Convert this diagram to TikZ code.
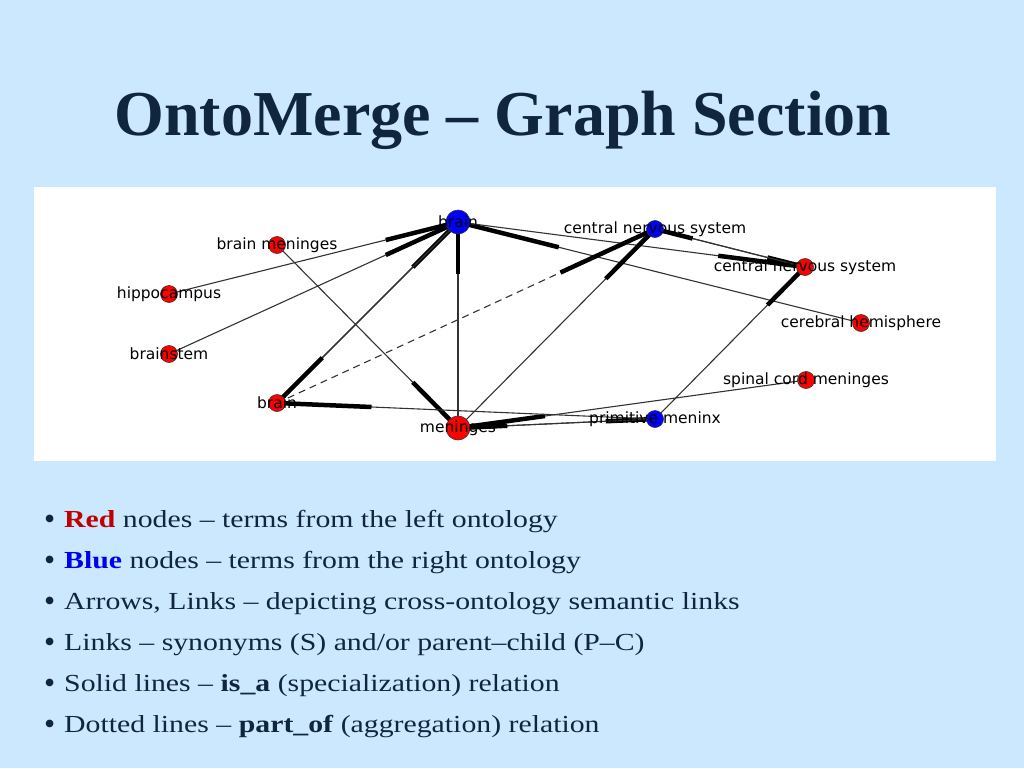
\documentclass[tikz,border=0pt]{standalone}
\usepackage{fontspec}
\setmainfont{Liberation Serif}
\newfontfamily\graphfont{DejaVu Sans}
\usetikzlibrary{calc}
\definecolor{slidebg}{HTML}{CCE8FF}
\definecolor{navy}{HTML}{10263F}
\definecolor{termred}{HTML}{C00000}
\definecolor{termblue}{RGB}{0,0,240}
\pgfdeclarelayer{back}
\pgfdeclarelayer{links}
\pgfsetlayers{back,links,main}
\tikzset{
  term/.style={circle,draw=black!80,line width=0.6pt,inner sep=0pt,minimum size=#1},
  link/.style={draw=black!80,line width=1.1pt},
  head/.style={draw=black,line width=4.5pt},
  every label/.style={font=\graphfont\fontsize{15.5}{18}\selectfont,text=black,inner sep=0pt}
}

\begin{document}
\begin{tikzpicture}[x=1pt,y=-1pt]
    \useasboundingbox (0,0) rectangle (1024,768);
    \begin{pgfonlayer}{back}
        \fill[slidebg] (0,0) rectangle (1024,768);
        \fill[white] (34,187) rectangle (996,461);
    \end{pgfonlayer}
    \node[anchor=base,text=navy,font=\bfseries\fontsize{64}{70}\selectfont] (title) at (503,135) {OntoMerge – Graph Section};
    \foreach \n/\x/\l/\c/\s in{
    1/{(277,245)}/{brain meninges}/red/17,
    2/{(169,294)}/{hippocampus}/red/17,
    3/{(169,354)}/{brainstem}/red/17,
    4/{(277,403)}/{brain}/red/17,
    5/{(458,222)}/{brain}/blue/24,
    6/{(458,428)}/{meninges}/red/24,
    7/{(655,229)}/{central nervous system}/blue/17,
    8/{(805,267)}/{central nervous system}/red/17,
    9/{(861,323)}/{cerebral hemisphere}/red/17,
    10/{(806,380)}/{spinal cord meninges}/red/17,
    11/{(655,419)}/{primitive meninx}/blue/17
    }
    {
            \node[term=\s pt,fill=\c,label={center:\l}] (\n) at \x {};
        }
    \begin{pgfonlayer}{links}
        \foreach \a/\b in {2/5,3/5,4/5,5/4,6/5,9/5,5/8,1/6,6/7,7/8,8/7,11/8,10/6,6/11,11/6,11/4}
        {
            \draw[link] (\a.center) -- (\b.center);
            \draw[head] ($(\b.center)!0.25!(\a.center)$) -- (\b.center);
        }
        \draw[link,dashed,dash pattern=on 7pt off 5pt] (4.center) -- (7.center);
        \draw[head] ($(7.center)!0.25!(4.center)$) -- (7.center);
    \end{pgfonlayer}
    \foreach \y/\t [count=\i] in{
    527/{\textcolor{termred}{\textbf{Red}} nodes – terms from the left ontology},
    568/{\textcolor{termblue}{\textbf{Blue}} nodes – terms from the right ontology},
    609/{Arrows, Links – depicting cross-ontology semantic links},
    650/{Links – synonyms (S) and/or parent–child (P–C)},
    691/{Solid lines – \textbf{is\_a} (specialization) relation},
    732/{Dotted lines – \textbf{part\_of} (aggregation) relation}
    }
    {
            \node[anchor=base west,inner sep=0pt,text=navy,font=\fontsize{24.5}{28}\selectfont] (item\i) at (44,\y) {\makebox[20pt][l]{\raisebox{-2.5pt}{\scalebox{1.3}{•}}}\scalebox{1.215}[1]{\t}};
        }
\end{tikzpicture}
\end{document}
